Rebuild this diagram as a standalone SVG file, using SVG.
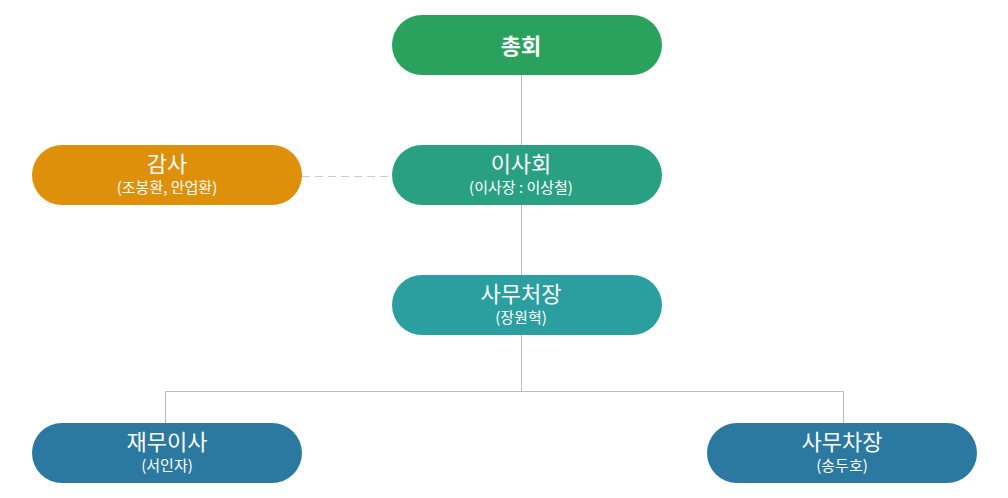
<svg xmlns="http://www.w3.org/2000/svg" width="1008" height="498" viewBox="0 0 1008 498">
<style>
.t{font-family:"Noto Sans CJK KR","Noto Sans",sans-serif;fill:#fff;text-anchor:middle}
.h{font-size:22px}
.s{font-size:15px}
.ln{stroke:#bbb;stroke-width:1;fill:none}
</style>
<rect width="1008" height="498" fill="#fff"/>
<g id="connectors">
<path class="ln" d="M521.5 75V391M165.5 423V391.5H843.5V423"/>
<path d="M302 176.5H392" stroke="#ccc" stroke-width="1" stroke-dasharray="8,5" fill="none"/>
</g>
<g id="n1"><rect x="392" y="15" width="270" height="60" rx="30" fill="#2ba15e"/><text class="t h" x="521" y="54" font-weight="bold">총회</text></g>
<g id="n2"><rect x="32" y="145" width="270" height="60" rx="30" fill="#de900a"/><text class="t h" x="167" y="172">감사</text><text class="t s" x="167" y="193">(조봉환, 안업환)</text></g>
<g id="n3"><rect x="392" y="145" width="270" height="60" rx="30" fill="#2aa083"/><text class="t h" x="521" y="172">이사회</text><text class="t s" x="521" y="193">(이사장 : 이상철)</text></g>
<g id="n4"><rect x="392" y="275" width="270" height="60" rx="30" fill="#2b9ea0"/><text class="t h" x="521" y="302">사무처장</text><text class="t s" x="521" y="323">(장원혁)</text></g>
<g id="n5"><rect x="32" y="423" width="270" height="60" rx="30" fill="#2b79a0"/><text class="t h" x="167" y="450">재무이사</text><text class="t s" x="167" y="471">(서인자)</text></g>
<g id="n6"><rect x="707" y="423" width="270" height="60" rx="30" fill="#2b79a0"/><text class="t h" x="842" y="450">사무차장</text><text class="t s" x="842" y="471">(송두호)</text></g>
</svg>
